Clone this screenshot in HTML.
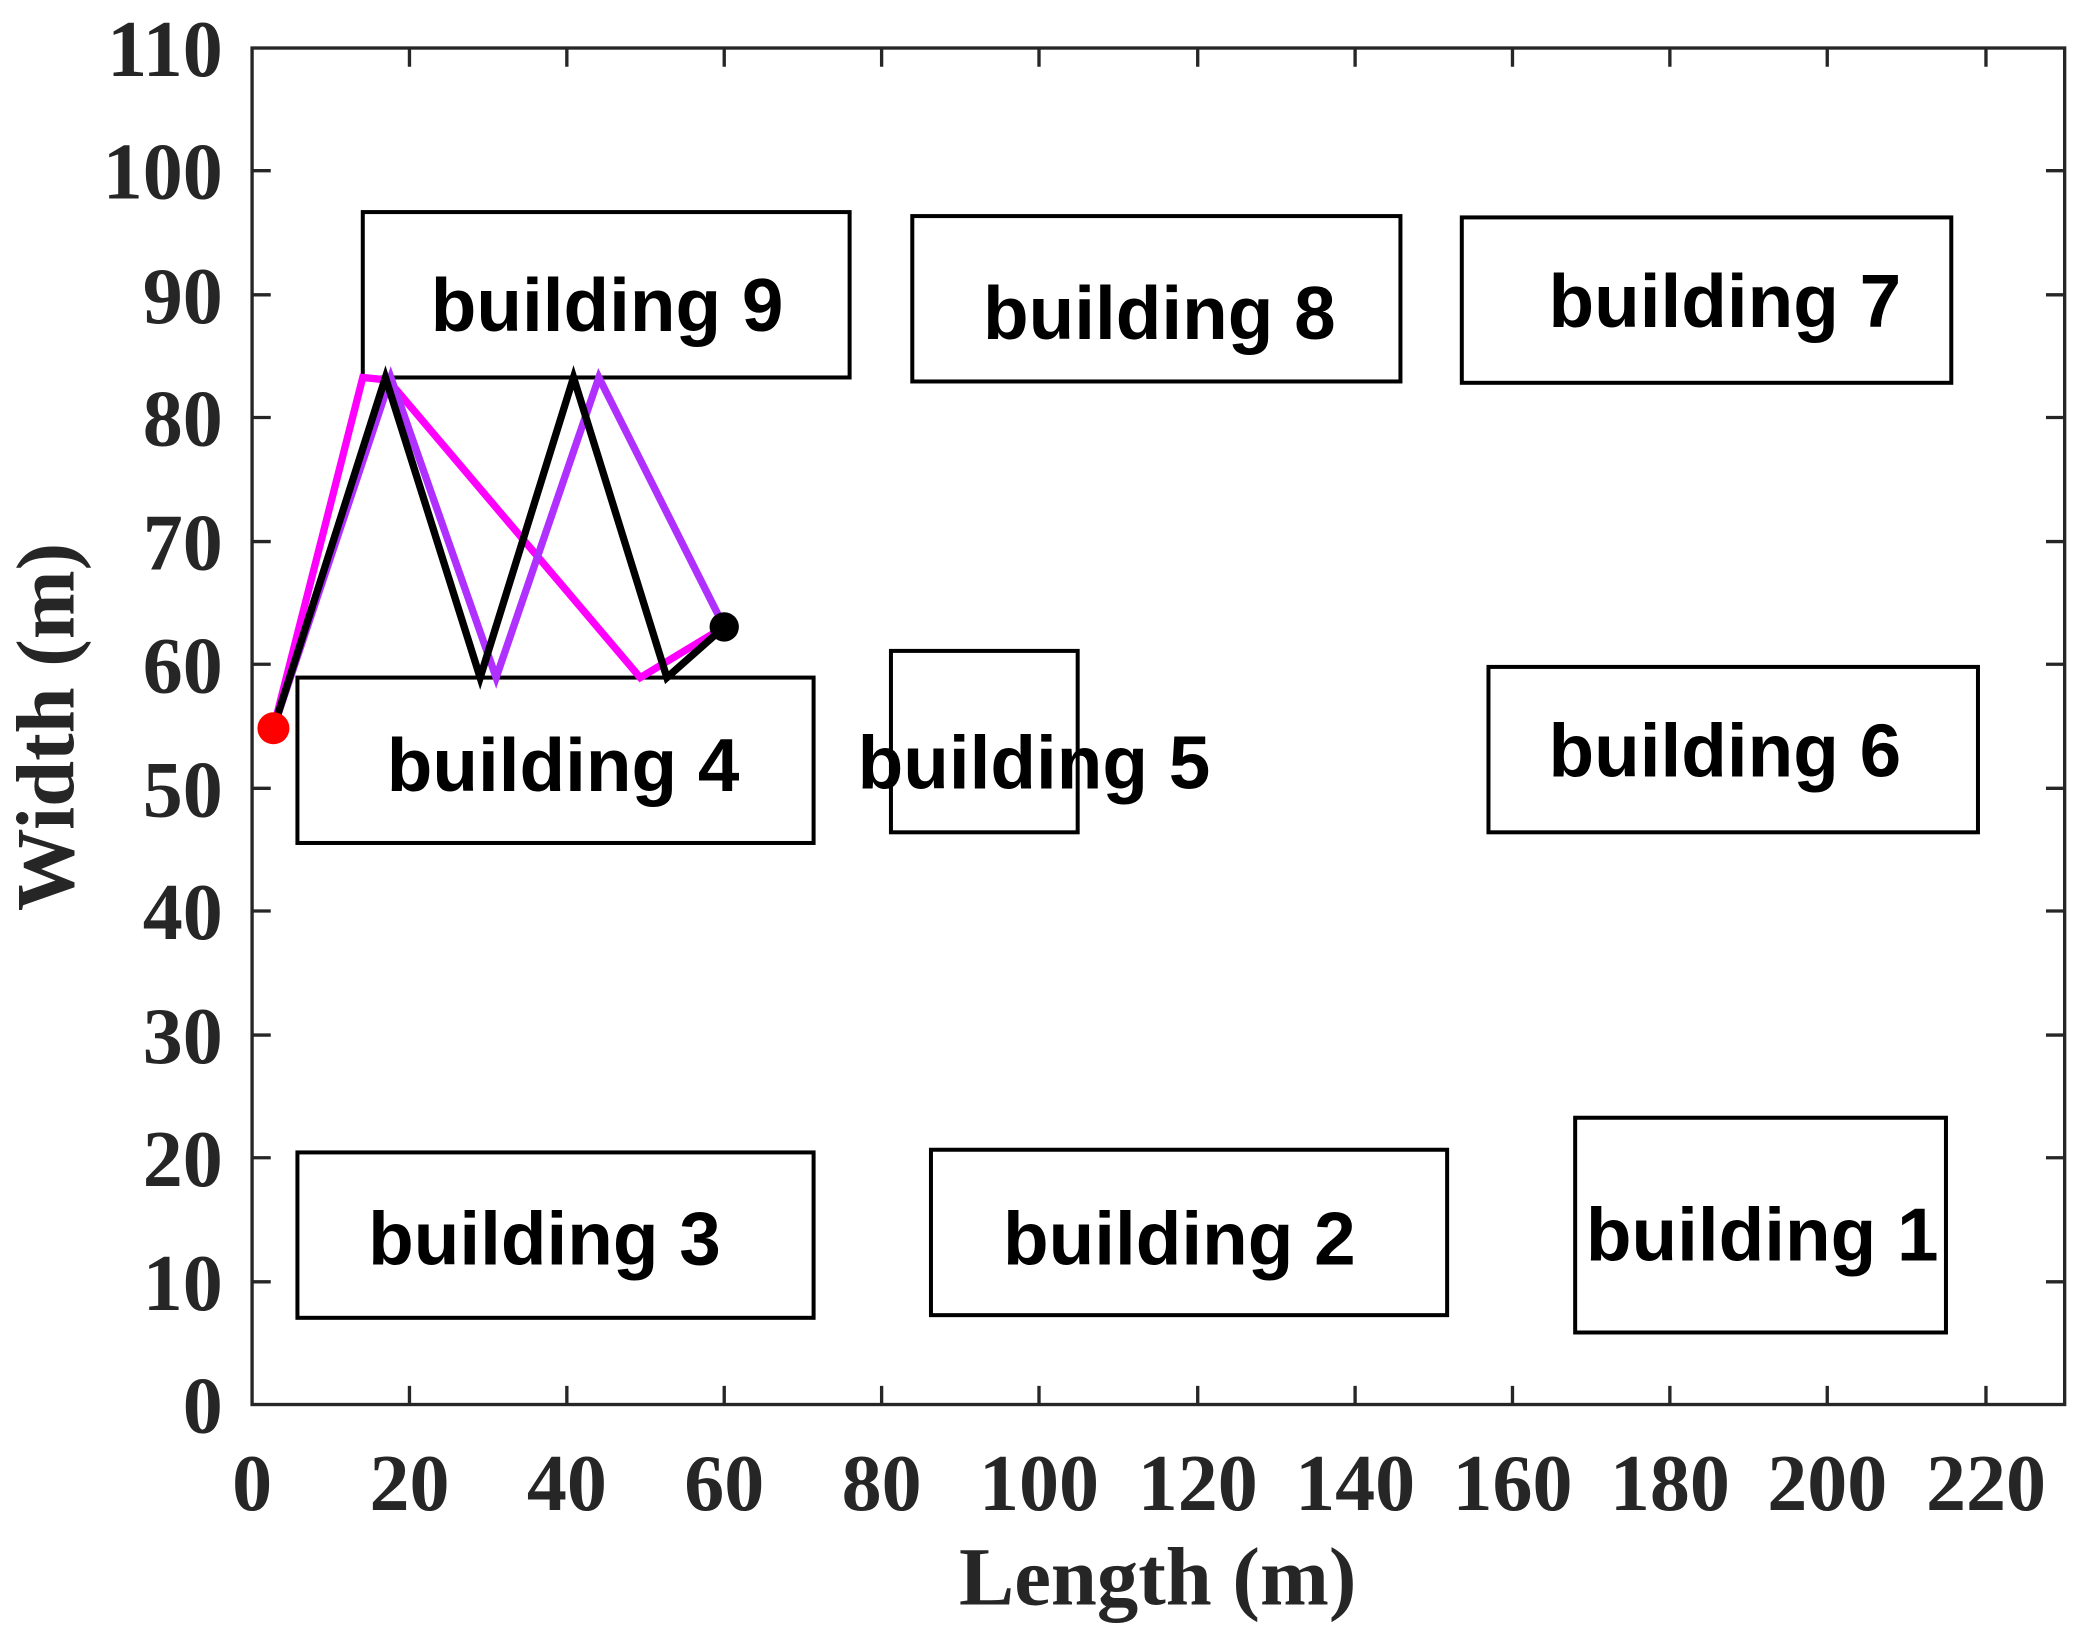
<!DOCTYPE html>
<html><head><meta charset="utf-8"><style>
html,body{margin:0;padding:0;background:#fff;}
svg{display:block;}
.b{font-family:"Liberation Sans",Arial,sans-serif;font-weight:bold;font-size:56px;fill:#000;}
.t{font-family:"Liberation Serif","Times New Roman",serif;font-weight:bold;font-size:60px;fill:#262626;}
.a{font-family:"Liberation Serif","Times New Roman",serif;font-weight:bold;font-size:62px;fill:#262626;}
</style></head><body>
<svg width="2086" height="1637" viewBox="0 0 1564 1227.3" preserveAspectRatio="none" xmlns="http://www.w3.org/2000/svg">
<rect x="0" y="0" width="1564" height="1228" fill="#fff"/>
<g fill="none" stroke="#000" stroke-width="3">
<rect x="272" y="159" width="365" height="124"/>
<rect x="684" y="162" width="366" height="124"/>
<rect x="1096" y="163" width="367" height="124"/>
<rect x="223" y="508" width="387" height="124"/>
<rect x="668" y="488" width="140" height="136"/>
<rect x="1116" y="500" width="367" height="124"/>
<rect x="223" y="864" width="387" height="124"/>
<rect x="698" y="862" width="387" height="124"/>
<rect x="1181" y="838" width="278" height="161"/>
</g>
<text class="b" x="323" y="248">building 9</text>
<text class="b" x="737" y="254">building 8</text>
<text class="b" x="1161" y="245">building 7</text>
<text class="b" x="290" y="593">building 4</text>
<text class="b" x="643" y="591">building 5</text>
<text class="b" x="1161" y="582">building 6</text>
<text class="b" x="276" y="948">building 3</text>
<text class="b" x="752" y="948">building 2</text>
<text class="b" x="1189" y="945">building 1</text>
<g fill="none" stroke-width="5.5" stroke-linejoin="miter">
<polyline stroke="#ff00ff" points="205,546 272,283 291,285 480,508 543,470"/>
<polyline stroke="#b030ff" points="205,546 293,283 372,508 449,283 543,470"/>
<polyline stroke="#000" points="205,546 289,283 360,508 430,283 500,508 543,470"/>
</g>
<circle cx="205" cy="546" r="12" fill="#ff0000"/>
<circle cx="543" cy="470" r="11" fill="#000"/>
<g stroke="#262626" stroke-width="2.5" fill="none">
<rect x="189" y="36" width="1359" height="1017"/>
<path d="M307,1053v-14M425,1053v-14M543,1053v-14M661,1053v-14M779,1053v-14M898,1053v-14M1016,1053v-14M1134,1053v-14M1252,1053v-14M1370,1053v-14M1489,1053v-14
M307,36v14M425,36v14M543,36v14M661,36v14M779,36v14M898,36v14M1016,36v14M1134,36v14M1252,36v14M1370,36v14M1489,36v14
M189,961h14M189,868h14M189,776h14M189,683h14M189,591h14M189,498h14M189,406h14M189,313h14M189,221h14M189,128h14
M1548,961h-14M1548,868h-14M1548,776h-14M1548,683h-14M1548,591h-14M1548,498h-14M1548,406h-14M1548,313h-14M1548,221h-14M1548,128h-14"/>
</g>
<g class="t" text-anchor="end">
<text x="167" y="1074">0</text>
<text x="167" y="982">10</text>
<text x="167" y="889">20</text>
<text x="167" y="797">30</text>
<text x="167" y="704">40</text>
<text x="167" y="612">50</text>
<text x="167" y="519">60</text>
<text x="167" y="427">70</text>
<text x="167" y="334">80</text>
<text x="167" y="242">90</text>
<text x="167" y="149">100</text>
<text x="167" y="57">110</text>
</g>
<g class="t" text-anchor="middle">
<text x="189" y="1132">0</text>
<text x="307" y="1132">20</text>
<text x="425" y="1132">40</text>
<text x="543" y="1132">60</text>
<text x="661" y="1132">80</text>
<text x="779" y="1132">100</text>
<text x="898" y="1132">120</text>
<text x="1016" y="1132">140</text>
<text x="1134" y="1132">160</text>
<text x="1252" y="1132">180</text>
<text x="1370" y="1132">200</text>
<text x="1489" y="1132">220</text>
</g>
<text class="a" x="868" y="1203" text-anchor="middle">Length (m)</text>
<text class="a" x="0" y="0" text-anchor="middle" transform="translate(55,545) rotate(-90)">Width (m)</text>
</svg>
</body></html>
